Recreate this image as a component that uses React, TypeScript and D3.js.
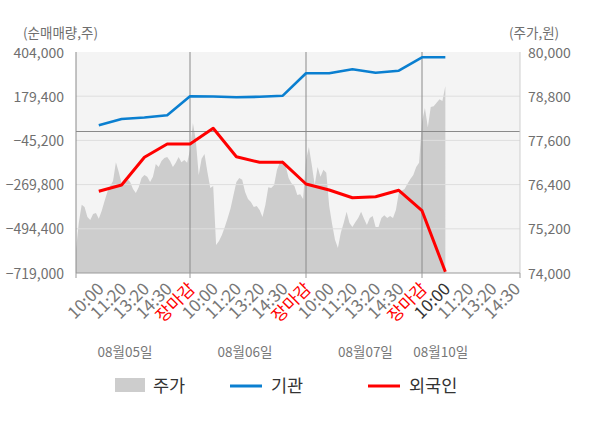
import React from "react";
import * as d3 from "d3";

const dayLabels = ["08월05일", "08월06일", "08월07일", "08월10일"];
const timeLabels = ["10:00", "11:20", "13:20", "14:30", "장마감"];
const dateLabelSlots = [2.15, 7.37, 12.56, 15.8];
const lastDaySlots = 4; // labels shown on the last (partial) day

const volumeTicks = [404000, 179400, -45200, -269800, -494400, -719000];
const priceTicks = [80000, 78800, 77600, 76400, 75200, 74000];

// net buying at each time slot (slot 1 .. 16)
const institution = [31500, 63600, 71200, 82300, 178900, 177900, 173800, 176400, 182000, 295800, 296000, 316100, 298800, 309000, 377000, 377000];
const foreign = [-303800, -271800, -131100, -63500, -63500, 16300, -128000, -156500, -156500, -266700, -297200, -336400, -331300, -298800, -402400, -712400];

// intraday price, 8 samples per slot
const priceDay1 = [74620, 75380, 75850, 75790, 75520, 75440, 75600, 75630, 75470, 75680, 75950, 76200, 76360, 76500, 77010, 76740, 76420, 76470, 76550, 76470, 76280, 76170, 76330, 76580, 76660, 76610, 76470, 76610, 76960, 76880, 77040, 77120, 77150, 77040, 76880, 76990, 77150, 77010, 77070, 76990];
const priceDay2 = [77340, 78070, 77610, 76660, 77100, 77230, 76740, 76310, 76360, 74760, 74870, 75030, 75250, 75490, 75760, 76120, 76470, 76580, 76530, 76200, 76010, 75930, 75790, 75820, 75710, 75520, 75850, 76330, 76310, 76390, 76800, 77010, 77070, 76910, 76580, 76440, 76360, 76120, 76140, 76010];
const priceDay3 = [77070, 77420, 76930, 76390, 76880, 76610, 76800, 76720, 75820, 75330, 74900, 74680, 75090, 75360, 75660, 75360, 75250, 75380, 75490, 75660, 75470, 75300, 75490, 75550, 75250, 75250, 75490, 75570, 75490, 75550, 75490, 75710, 76170, 76230, 76280, 76420, 76550, 76660, 76880, 76990];
const priceDay4 = [78100, 78480, 77960, 78510, 78530, 78620, 78720, 78670, 79080];

const W = 600;
const H = 428;
const top = 52;
const bottom = 273;
const left = 76;
const right = 520;
const font = "'Noto Sans CJK KR', 'Noto Sans', sans-serif";
const grey = "#6f6f6f";

export default function App() {
  const x = d3.scaleLinear().domain([0, 5, 10, 15, 19.2]).range([left, 190, 306, 422, right]);
  const yL = d3.scaleLinear().domain([-719000, 404000]).range([bottom, top]);
  const yR = d3.scaleLinear().domain([74000, 80000]).range([bottom, top]);

  const priceDays = [priceDay1, priceDay2, priceDay3, priceDay4];
  const pricePts: [number, number][] = [];
  priceDays.forEach((arr, d) => arr.forEach((p, k) => pricePts.push([d * 5 + k / 8, p])));

  const area = d3
    .area<[number, number]>()
    .x((d) => x(d[0]))
    .y0(bottom)
    .y1((d) => yR(d[1]));

  const line = d3
    .line<number>()
    .x((_, i) => x(i + 1))
    .y((d) => yL(d));

  const ticks: { slot: number; label: string; day: number; i: number }[] = [];
  dayLabels.forEach((_, d) => {
    const n = d === dayLabels.length - 1 ? lastDaySlots : timeLabels.length;
    for (let i = 0; i < n; i++) ticks.push({ slot: d * 5 + i + 1, label: timeLabels[i], day: d, i });
  });

  const boundaries = [5, 10, 15];

  return (
    <svg width={W} height={H} style={{ position: "absolute", left: 0, top: 0 }} fontFamily={font}>
      <rect x={0} y={0} width={W} height={H} fill="#fff" />
      <rect x={left} y={top} width={right - left} height={bottom - top} fill="#f4f4f4" />
      <path d={area(pricePts) || ""} fill="#cdcdcd" />
      {volumeTicks.slice(1, -1).map((v) => (
        <line key={v} x1={left} x2={right} y1={yL(v)} y2={yL(v)} stroke="#dedede" strokeWidth={1} />
      ))}
      <line x1={left} x2={right} y1={yL(0)} y2={yL(0)} stroke="#8a8a8a" strokeWidth={1} />
      {boundaries.map((b) => (
        <line key={b} x1={x(b)} x2={x(b)} y1={top} y2={bottom} stroke="#8a8a8a" strokeWidth={1} />
      ))}
      <line x1={left} x2={left} y1={top} y2={bottom} stroke="#8a8a8a" strokeWidth={1} />
      <line x1={right} x2={right} y1={top} y2={bottom} stroke="#cfcfcf" strokeWidth={1} />
      <line x1={left} x2={right} y1={bottom} y2={bottom} stroke="#9a9a9a" strokeWidth={1} />
      {[0, 5, 10, 15, 19.2].map((s) => (
        <line key={s} x1={x(s)} x2={x(s)} y1={bottom} y2={bottom + 5} stroke="#9a9a9a" strokeWidth={1} />
      ))}

      <path d={line(institution) || ""} fill="none" stroke="#0a7fd0" strokeWidth={2.6} strokeLinejoin="round" />
      <path d={line(foreign) || ""} fill="none" stroke="#ff0000" strokeWidth={3} strokeLinejoin="round" />

      {volumeTicks.map((v) => (
        <text key={v} x={64} y={yL(v) + 5.5} textAnchor="end" fontSize={14} fill={grey}>
          {d3.format(",")(v)}
        </text>
      ))}
      {priceTicks.map((v) => (
        <text key={v} x={528} y={yR(v) + 5.5} textAnchor="start" fontSize={14} fill={grey}>
          {d3.format(",")(v)}
        </text>
      ))}
      <text x={23} y={38} fontSize={13.5} fill={grey}>(순매매량,주)</text>
      <text x={509} y={38} fontSize={13.5} fill={grey}>(주가,원)</text>

      {ticks.map((t) => {
        const isClose = t.i === timeLabels.length - 1;
        const isCurrent = t.day === dayLabels.length - 1 && t.i === 0;
        return (
          <text
            key={t.slot}
            transform={`translate(${x(t.slot) + 6},${290}) rotate(-45)`}
            textAnchor="end"
            fontSize={17}
            fill={isClose ? "#ff0000" : isCurrent ? "#333" : "#777"}
          >
            {t.label}
          </text>
        );
      })}
      {dayLabels.map((d, i) => (
        <text key={d} x={x(dateLabelSlots[i])} y={357} textAnchor="middle" fontSize={13.5} fill="#777">
          {d}
        </text>
      ))}

      <rect x={115} y={378} width={30} height={14} fill="#cdcdcd" />
      <text x={153} y={392} fontSize={17.5} fill="#333">주가</text>
      <line x1={230} x2={262} y1={386} y2={386} stroke="#0a7fd0" strokeWidth={3} />
      <text x={271} y={392} fontSize={17.5} fill="#333">기관</text>
      <line x1={368} x2={400} y1={386} y2={386} stroke="#ff0000" strokeWidth={3} />
      <text x={409} y={392} fontSize={17.5} fill="#333">외국인</text>
    </svg>
  );
}
